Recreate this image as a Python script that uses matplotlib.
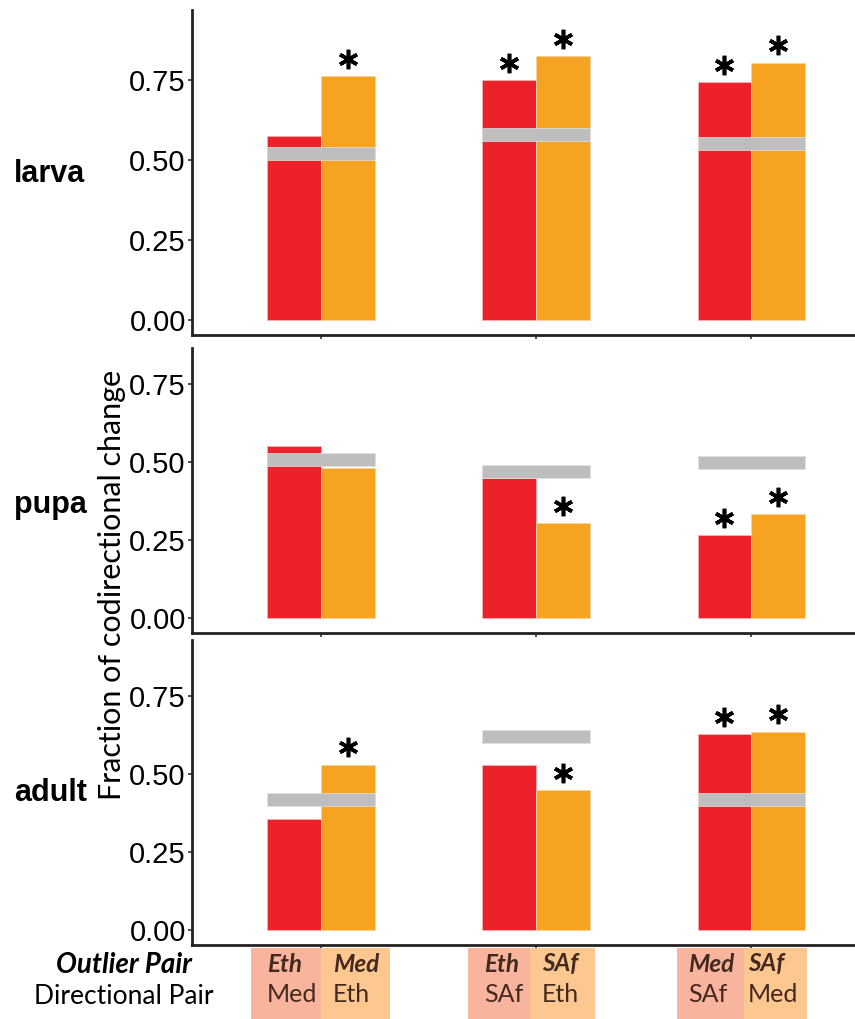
import numpy as np
import matplotlib.pyplot as plt
import matplotlib.transforms as mtransforms
from matplotlib.patches import Rectangle

plt.rcParams['font.family'] = ['Liberation Sans', 'DejaVu Sans']

stages = ['larva', 'pupa', 'adult']
comparisons = [1, 2, 3]

# fraction of codirectional change, first (red) and second (orange) bar of each pair
red_vals = {'larva': [0.575, 0.750, 0.744],
            'pupa': [0.551, 0.449, 0.266],
            'adult': [0.357, 0.531, 0.628]}
orange_vals = {'larva': [0.763, 0.825, 0.806],
               'pupa': [0.481, 0.305, 0.333],
               'adult': [0.531, 0.450, 0.637]}
null_vals = {'larva': [0.522, 0.580, 0.553],
             'pupa': [0.510, 0.471, 0.500],
             'adult': [0.418, 0.621, 0.418]}
red_sig = {'larva': [0, 1, 1], 'pupa': [0, 0, 1], 'adult': [0, 0, 1]}
orange_sig = {'larva': [1, 1, 1], 'pupa': [0, 1, 1], 'adult': [1, 1, 1]}

outlier_pair = ['Eth', 'Med', 'Eth', 'SAf', 'Med', 'SAf']
directional_pair = ['Med', 'Eth', 'SAf', 'Eth', 'SAf', 'Med']

yticks = [0.0, 0.25, 0.5, 0.75]
ytick_labels = ['0.00', '0.25', '0.50', '0.75']

RED = '#ED2129'
ORANGE = '#F5A320'
GRAY = '#BEBEBE'
BOX_RED = '#F9B49D'
BOX_ORANGE = '#FDC890'
TXT = '#45291F'

W, H = 855, 1019
fig = plt.figure(figsize=(W / 100, H / 100), dpi=100)

# axes rectangles in figure fraction (left, bottom, width, height)
boxes = {'larva': [0.2246, 0.671, 0.775, 0.319],
         'pupa': [0.2246, 0.379, 0.775, 0.279],
         'adult': [0.2246, 0.0726, 0.775, 0.299]}
ytops = {'larva': 0.97, 'pupa': 0.865, 'adult': 0.93}
label_base = {'larva': 182, 'pupa': 513, 'adult': 801}

w = 0.25
x = np.array(comparisons)
for st in stages:
    ax = fig.add_axes(boxes[st])
    ax.bar(x - w / 2, red_vals[st], width=w, color=RED, edgecolor='#F6B0B0', linewidth=0.6, zorder=2)
    ax.bar(x + w / 2, orange_vals[st], width=w, color=ORANGE, edgecolor='#FAD3A0', linewidth=0.6, zorder=2)
    nv = np.array(null_vals[st])
    ax.bar(x, 0.042, bottom=nv - 0.021, width=2 * w, color=GRAY, edgecolor='#E2E2E2', linewidth=0.5, zorder=3)

    star_tr = mtransforms.offset_copy(ax.transData, fig=fig, y=12.5, units='points')
    for i in range(3):
        if red_sig[st][i]:
            ax.plot(x[i] - w / 2, red_vals[st][i], marker=(6, 2, 0), ms=14, mew=2.6,
                    color='black', transform=star_tr, clip_on=False, zorder=4)
        if orange_sig[st][i]:
            ax.plot(x[i] + w / 2, orange_vals[st][i], marker=(6, 2, 0), ms=14, mew=2.6,
                    color='black', transform=star_tr, clip_on=False, zorder=4)
    ax.set_xlim(0.4, 3.48)
    ax.set_ylim(-0.048, ytops[st])
    ax.set_yticks(yticks)
    ax.set_yticklabels(ytick_labels, fontsize=21)
    ax.set_xticks(comparisons)
    ax.set_xticklabels([])
    ax.tick_params(axis='both', length=3, width=1.2, color='#333333', pad=1.5)
    for s in ['top', 'right']:
        ax.spines[s].set_visible(False)
    for s in ['left', 'bottom']:
        ax.spines[s].set_linewidth(2)
        ax.spines[s].set_color('#222222')
    fig.text(14 / W, 1 - label_base[st] / H, st, fontsize=22, fontweight='bold',
             ha='left', va='baseline')

fig.text(112 / W, 1 - 585 / H, 'Fraction of codirectional change', rotation=90, fontsize=22,
         family=['Lato', 'DejaVu Sans'], ha='center', va='center')

# pair annotation boxes under the bars
box_left = [251, 321, 468, 530, 677, 744]
box_right = [321, 390, 530, 595, 744, 807]
text_left = [267, 333, 484, 542, 688, 748]
box_top = 1 - 948 / H
for i in range(6):
    x0 = box_left[i] / W
    x1 = box_right[i] / W
    col = BOX_RED if i % 2 == 0 else BOX_ORANGE
    fig.add_artist(Rectangle((x0, 0), x1 - x0, box_top, transform=fig.transFigure,
                             facecolor=col, edgecolor='none'))
    fig.text(text_left[i] / W, 1 - 964 / H, outlier_pair[i], fontsize=17.5, fontweight='bold',
             style='italic', family='Lato', color=TXT, ha='left', va='center')
    fig.text(text_left[i] / W, 1 - 994 / H, directional_pair[i], fontsize=18, family='Lato',
             color=TXT, ha='left', va='center')

fig.text(124 / W, 1 - 965 / H, 'Outlier Pair', fontsize=20, fontweight='bold', style='italic',
         family='Lato', ha='center', va='center')
fig.text(124 / W, 1 - 997 / H, 'Directional Pair', fontsize=19, family='Lato',
         ha='center', va='center')

fig.savefig('out.png', dpi=100)
